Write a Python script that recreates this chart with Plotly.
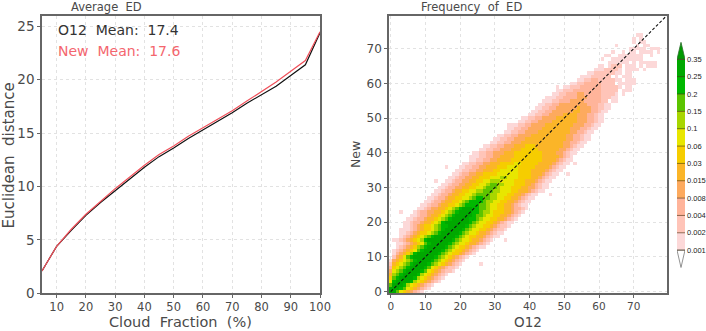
import plotly.graph_objects as go

W, H = 706, 331

# ---------- left panel data ----------
cloud_fraction = [5, 10, 15, 20, 25, 30, 35, 40, 45, 50, 55, 60, 65, 70, 75, 80, 85, 90, 95, 100]
ed_o12 = [2.1, 4.4, 5.9, 7.3, 8.5, 9.6, 10.7, 11.8, 12.8, 13.6, 14.5, 15.3, 16.1, 16.9, 17.8, 18.6, 19.4, 20.4, 21.4, 24.4]
ed_new = [2.1, 4.4, 6.0, 7.4, 8.6, 9.8, 10.9, 12.0, 13.0, 13.8, 14.7, 15.5, 16.3, 17.1, 18.0, 18.9, 19.8, 20.8, 21.8, 24.5]

# ---------- right panel data: frequency class per 1x1 cell, one string per New value ----------
row_start = [0, 0, 0, 0, 0, 0, 0, 0, 0, 0, 1, 1, 1, 2, 2, 2, 3, 3, 3, 4,
             4, 5, 6, 7, 8, 9, 10, 11, 12, 13, 14, 15, 16, 17, 18, 19, 20, 21, 23, 23,
             24, 26, 27, 29, 30, 31, 33, 34, 35, 37, 38, 40, 41, 42, 43, 44, 45, 47, 48, 50,
             52, 54, 55, 57, 59, 60, 61, 61, 62, 64, 69, 65, 70, 70, 71]
row_cells = [
    "BB97654321",
    "BBBA97654321",
    "9BBBA87654321",
    "7ABBBBA87654321",
    "69ABBBBA87654321",
    "589ABBBBA87654321",
    "4789ABBBBA976543221",
    "36789ABBBBA976543221",
    "256789ABBBBA987654321",
    "1456789ABBBBA987654321",
    "24579ABBBBBBA987654321",
    "134568ABBBBBBA9876654321",
    "12345679ABBBBBA9876654321",
    "12345689ABBBBBA98766543211",
    "112345679ABBBBBA98776554321",
    "12345678ABBBBBBBA98776554321",
    "123456789ABBBBBBA987665543211",
    "11234566789ABBBBBA987765543211",
    "111234566789ABBBBBA987766543221",
    "11234566789AABBBBBA987766543221",
    "11233455678ABBBBBBBA987766543211",
    "112334556789ABBBBBAA987766554321",
    "112334556789ABBBBBA9987766554321",
    "123344556789ABBBBAA9887666554321",
    "112344556789ABBBAA99877665543321",
    "1123345566789AAAA99877665543211",
    "1123345566789AAAA98877665543211",
    "11233455667789AA998877665543211",
    "1123345566778999988777665543211",
    "11233455667788999887776655543211",
    "11233445566778999877766655443211",
    "1123344556677899887776665543211",
    "1123344556677888777766655543211",
    "1123344556667778877766665543211",
    "1123344556666777777666655543211",
    "1122334455566777776666555543211",
    "1122334455566677766666555543211",
    "1122334455566667766666555543211",
    "112233445555666666666555543211",
    "111223344555566666666555554321",
    "112233444555666666665555443211",
    "11223344455566666555555443211",
    "11223344455566655555555443211",
    "1122334445555555555554433211",
    "1122334445555555555554433211",
    "112233444455555555554433211",
    "11223344445555555554433211",
    "11223344445555555544433211",
    "11223344445555555544433211",
    "1122334444555555544433211",
    "112233444455555544433211",
    "1122334444555544433211",
    "1122334444445544433211",
    "1122334444445444332211",
    "112233444444443332211",
    "1112233344443333322 11",
    "111223333444333322211",
    "1122333443333322221 1",
    "112223333333322222 11",
    "11222333333222221 11",
    "1122333332222 11111",
    "1122332222211 11",
    "111222222 1 111",
    "1122222211 11",
    "11122221 1111",
    "11 1222 111 1 111",
    "  111111 1 11111",
    "1  111111111",
    "11  1111111  1",
    "1  1 11 1111 1",
    "11111 111",
    "1     1 11",
    "1 11",
    "1 1",
    "11",
]
stray_o12 = [13, 16, 46, 44, 51, 53, 33, 26, 34, 48, 3, 1, 70, 73, 69]
stray_new = [32, 36, 28, 30, 34, 37, 15, 8, 48, 59, 23, 15, 61, 64, 58]

class_colors = ["#fcd8d8", "#ffc4b8", "#ffb49a", "#fdaa5e", "#fbb528", "#f6cd00",
                "#e8e600", "#a8d600", "#5cc400", "#00b800", "#00a800"]
top_arrow_color = "#009a00"
class_labels = ["0.001", "0.002", "0.004", "0.008", "0.015", "0.03", "0.06", "0.1", "0.15", "0.2", "0.25", "0.35"]

CODES = "123456789AB"
size = 80
grid = [[None] * size for _ in range(size)]
for r, (s, cells) in enumerate(zip(row_start, row_cells)):
    for k, ch in enumerate(cells):
        if ch != " ":
            grid[r][s + k] = CODES.index(ch) + 1
for c, r in zip(stray_o12, stray_new):
    grid[r][c] = 1

GRAY = "#4a4a4a"
FRAME = "#666666"
GRID = "#e2e2e2"
FONT = "DejaVu Sans"


def dom(a, b, total):
    return [a / total, b / total]


def ydom(top, bottom):
    return [1 - bottom / H, 1 - top / H]


fig = go.Figure()

# left panel
fig.add_trace(go.Scatter(x=cloud_fraction, y=ed_o12, mode="lines", line=dict(color="#111111", width=1.2),
                         xaxis="x", yaxis="y", showlegend=False))
fig.add_trace(go.Scatter(x=cloud_fraction, y=ed_new, mode="lines", line=dict(color="#f0505a", width=1.2),
                         xaxis="x", yaxis="y", showlegend=False))

# right panel
stepped = []
n = len(class_colors)
for i, col in enumerate(class_colors):
    stepped += [[i / n, col], [(i + 1) / n, col]]
fig.add_trace(go.Heatmap(z=grid, x=list(range(size)), y=list(range(size)), colorscale=stepped,
                         zmin=0.5, zmax=n + 0.5, showscale=False, xaxis="x2", yaxis="y2", hoverongaps=False))
fig.add_trace(go.Scatter(x=[0, 80], y=[0, 80], mode="lines", line=dict(color="#111111", width=1.1, dash="3px,2px"),
                         xaxis="x2", yaxis="y2", showlegend=False))

# colour bar
fig.add_trace(go.Heatmap(z=[[i + 1] for i in range(n)], x=[0.5], y=[i + 0.5 for i in range(n)], colorscale=stepped,
                         zmin=0.5, zmax=n + 0.5, showscale=False, xaxis="x3", yaxis="y3"))
fig.add_trace(go.Scatter(x=[0, 1, 0.5, 0], y=[n, n, n + 0.98, n], mode="lines", fill="toself",
                         fillcolor=top_arrow_color, line=dict(color="#2f6f2f", width=0.8),
                         xaxis="x3", yaxis="y3", showlegend=False))
fig.add_trace(go.Scatter(x=[0, 1, 0.5, 0], y=[0, 0, -1.0, 0], mode="lines", fill="toself",
                         fillcolor="white", line=dict(color="#777777", width=0.8),
                         xaxis="x3", yaxis="y3", showlegend=False))
sep_x, sep_y = [], []
for i in range(n + 1):
    sep_x += [0, 1, None]
    sep_y += [i, i, None]
fig.add_trace(go.Scatter(x=sep_x, y=sep_y, mode="lines", line=dict(color="rgba(70,50,20,0.6)", width=1),
                         xaxis="x3", yaxis="y3", showlegend=False))

axis_common = dict(showline=True, linecolor=FRAME, linewidth=1.6, mirror=True, ticks="outside", ticklen=3,
                   tickcolor=FRAME, tickwidth=1, showgrid=True, gridcolor=GRID, griddash="dot", gridwidth=1,
                   zeroline=False, automargin=False)


def tick_font(size):
    return dict(family=FONT, size=size, color=GRAY)


fig.update_layout(
    template="none",
    width=W, height=H, autosize=False, margin=dict(l=0, r=0, t=0, b=0, pad=0),
    paper_bgcolor="white", plot_bgcolor="white", showlegend=False,
    font=dict(family=FONT, color=GRAY),
    xaxis=dict(domain=dom(42, 320, W), range=[5, 100], tickvals=list(range(10, 101, 10)), anchor="y",
               tickfont=tick_font(11.5), ticklabelstandoff=-1, **axis_common),
    yaxis=dict(domain=ydom(15.7, 293.3), range=[0, 26], tickvals=[0, 5, 10, 15, 20, 25], anchor="x",
               tickfont=tick_font(13.5), **axis_common),
    xaxis2=dict(domain=dom(389, 666.7, W), range=[-0.5, 79.5], tickvals=list(range(0, 71, 10)), anchor="y2",
                tickfont=tick_font(10.5), ticklabelstandoff=-1, **axis_common),
    yaxis2=dict(domain=ydom(15.7, 293.3), range=[-0.5, 79.5], tickvals=list(range(0, 71, 10)), anchor="x2",
                tickfont=tick_font(12), **axis_common),
    xaxis3=dict(domain=dom(677, 685, W), range=[0, 1], anchor="y3", showticklabels=False, ticks="", showgrid=False,
                zeroline=False, showline=False, automargin=False),
    yaxis3=dict(domain=ydom(42, 268), range=[-1.03, 12], anchor="x3", side="right", automargin=False,
                tickvals=list(range(n + 1)), ticktext=class_labels, ticks="", showgrid=False, zeroline=False,
                showline=False, tickfont=dict(family="Liberation Sans", size=7.5, color="#222222"), ticklabelstandoff=1),
)


def label(text, x, y, size, color=GRAY, angle=0, anchor="center"):
    fig.add_annotation(text=text, x=x / W, y=1 - y / H, xref="paper", yref="paper", showarrow=False,
                       font=dict(family=FONT, size=size, color=color), textangle=angle, xanchor=anchor, yanchor="middle")


N = "\u00a0"
label("Average" + N + N + "ED", 106, 7, 11.5)
label("Frequency" + N + N + "of" + N + N + "ED", 471.5, 7, 11.5)
label("Cloud" + N + N + "Fraction" + N + N + "(%)", 180.5, 322, 14.5)
label("Euclidean" + N + N + "distance", 8, 155.5, 15, angle=-90)
label("O12", 528, 322, 13.5)
label("New", 355, 155, 12.5, angle=-90)
label("O12" + N + N + "Mean:" + N + N + "17.4", 56, 30, 14, color="#333333", anchor="left")
label("New" + N + N + "Mean:" + N + N + "17.6", 56, 51, 14, color="#f4666e", anchor="left")

fig.write_html("out.html", config={"displayModeBar": False}, post_script="document.body.style.margin='0';")
